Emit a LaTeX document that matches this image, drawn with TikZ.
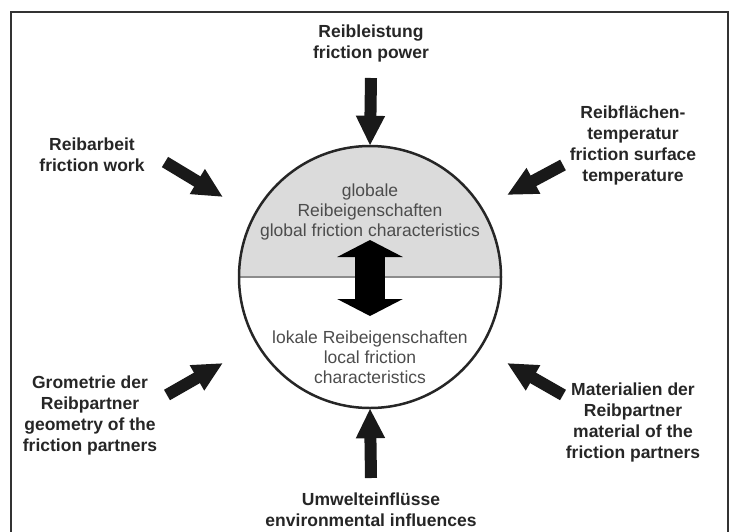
\documentclass[tikz,border=0pt]{standalone}
\usepackage{fontspec}
\setmainfont{Liberation Sans}
\usetikzlibrary{arrows.meta}
\tikzset{
    factor/.style={align=center, font=\bfseries\fontsize{17.5}{21}\selectfont, text=black!85},
    inner/.style={align=center, font=\fontsize{17.5}{20}\selectfont, text=black!70},
    bigarrow/.style={line width=12pt, black!90, -{Triangle[length=30pt, width=27pt]}},
    duoarrow/.style={line width=30pt, black, {Triangle[length=17pt, width=65pt]}-{Triangle[length=17pt, width=65pt]}}
}
\def\upperhalf{(fc.west) arc[start angle=180, end angle=0, radius=131pt] -- cycle}

\begin{document}
\begin{tikzpicture}[x=1pt, y=-1pt]
    \useasboundingbox (0,0) rectangle (731,531);
    \draw[line width=1.5pt, black!80] (11,12) rectangle (728,560);

    \coordinate (fc0) at (370,277);
    \node[circle, minimum size=262pt, inner sep=0pt] (fc) at (fc0) {};
    \fill[black!14] \upperhalf;
    \draw[line width=1.2pt, black!45] (fc.west) -- (fc.east);
    \draw[line width=2.5pt, black!85] (fc0) circle (131);

    \node[inner] (glob) at (370,212) {globale\\Reibeigenschaften\\global friction characteristics};
    \node[inner] (lok) at (370,357) {lokale Reibeigenschaften\\local friction\\characteristics};
    \coordinate (gtip) at (370,240);
    \coordinate (ltip) at (370,316);
    \draw[duoarrow] (gtip) -- (ltip);

    \node[factor] (power) at (371,43) {Reibleistung\\friction power};
    \node[factor] (work) at (92,155) {Reibarbeit\\friction work};
    \node[factor] (temp) at (633,145) {Reibflächen-\\temperatur\\friction surface\\temperature};
    \node[factor] (geom) at (90,415) {Grometrie der\\Reibpartner\\geometry of the\\friction partners};
    \node[factor] (mat) at (633,422) {Materialien der\\Reibpartner\\material of the\\friction partners};
    \node[factor] (env) at (371,510) {Umwelteinflüsse\\environmental influences};

    \coordinate (powera) at (371,78);
    \coordinate (worka) at (165,162);
    \coordinate (workb) at (223,197);
    \coordinate (tempa) at (563,165);
    \coordinate (tempb) at (507,195);
    \coordinate (geoma) at (167,395);
    \coordinate (geomb) at (223,363);
    \coordinate (mata) at (563,395);
    \coordinate (matb) at (507,363);
    \coordinate (enva) at (371,478);

    \draw[bigarrow] (powera) -- (fc.north);
    \draw[bigarrow] (enva) -- (fc.south);
    \draw[bigarrow] (worka) -- (workb);
    \draw[bigarrow] (tempa) -- (tempb);
    \draw[bigarrow] (geoma) -- (geomb);
    \draw[bigarrow] (mata) -- (matb);
\end{tikzpicture}
\end{document}
